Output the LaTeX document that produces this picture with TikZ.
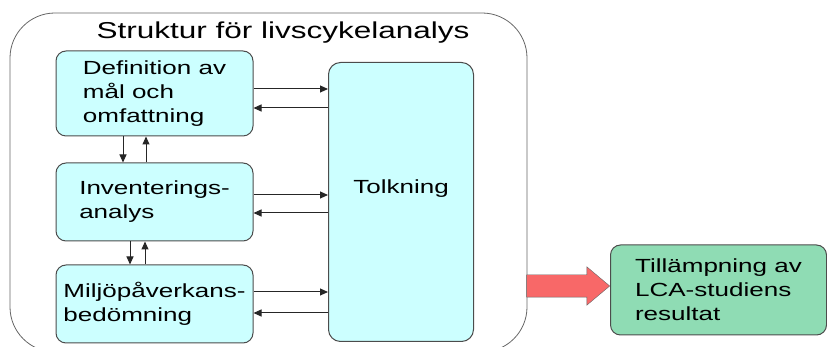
\documentclass[tikz,border=0pt]{standalone}
\usepackage{fontspec}
\setmainfont{Liberation Sans}[FakeStretch=1.37]
\usetikzlibrary{arrows.meta,positioning,shapes.arrows}
\definecolor{lcacyan}{HTML}{CCFFFF}
\definecolor{lcagreen}{HTML}{8FDCB4}
\definecolor{lcared}{HTML}{F86868}
\tikzset{stage box/.style={rectangle,rounded corners=10pt,draw=black!70,line width=1pt,fill=lcacyan,minimum width=197pt,minimum height=78pt,align=left,font=\fontsize{19}{24}\selectfont},
         result box/.style={stage box,fill=lcagreen,minimum width=216pt,minimum height=90pt},
         flow/.style={-{Triangle[length=8pt,width=7pt]},line width=1pt,draw=black!85},
         big arrow/.style={single arrow,draw=black!60,fill=lcared,minimum height=83pt,minimum width=38pt,single arrow head extend=8pt,single arrow tip angle=80,inner xsep=0pt,inner ysep=11pt}
}
\begin{document}
\begin{tikzpicture}[x=1pt,y=1pt]
\useasboundingbox (0,0) rectangle (827,347);
% outer frame
\draw[draw=black!60,line width=0.8pt,rounded corners=45pt] (10,334) rectangle (527,-5);
\node[font=\fontsize{23}{28}\selectfont] (title) at (283,314) {Struktur för livscykelanalys};
% the three stages
\node[stage box,minimum height=85pt] (def) at (154.5,253.5) {Definition av\\mål och\\omfattning};
\node[stage box,below=26pt of def] (inv) {Inventerings-\\analys};
\node[stage box,below=23pt of inv] (mil) {Miljöpåverkans-\\bedömning};
\node[stage box,rounded corners=12pt,minimum width=145pt,minimum height=279pt,text depth=30pt,anchor=north west] (tolk) at (328,285) {Tolkning};
% arrows to and from Tolkning
\foreach \stage/\up/\down in {def/4.5/-14.5, inv/7/-11, mil/12/-9}{
  \draw[flow] ([yshift=\up pt]\stage.east) -- ([yshift=\up pt]\stage.east -| tolk.west);
  \draw[flow] ([yshift=\down pt]\stage.east -| tolk.west) -- ([yshift=\down pt]\stage.east);
}
% arrows between the stages
\draw[flow] ([xshift=-31.5pt]def.south) -- ([xshift=-31.5pt]def.south |- inv.north);
\draw[flow] ([xshift=-8.5pt]def.south |- inv.north) -- ([xshift=-8.5pt]def.south);
\draw[flow] ([xshift=-24.5pt]inv.south) -- ([xshift=-24.5pt]inv.south |- mil.north);
\draw[flow] ([xshift=-9.5pt]inv.south |- mil.north) -- ([xshift=-9.5pt]inv.south);
% result
\node[result box,anchor=west] (res) at (610,57) {Tillämpning av\\LCA-studiens\\resultat};
\node[big arrow,anchor=tip] (out) at ([yshift=4pt]res.west) {};
\end{tikzpicture}
\end{document}
